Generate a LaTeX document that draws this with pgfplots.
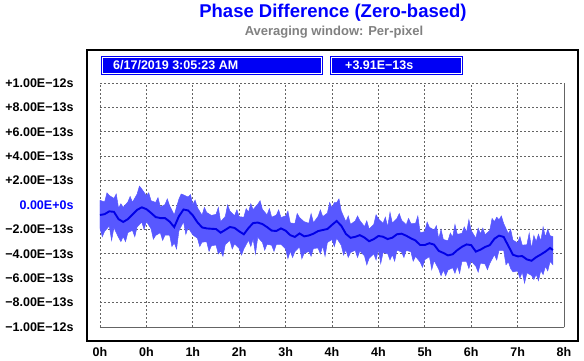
\documentclass[border=0pt]{standalone}
\usepackage{fontspec}
\setmainfont{Liberation Sans}
\usepackage{pgfplots}
\pgfplotsset{compat=1.18}
\usepackage{pgfplotstable}
\definecolor{bandblue}{RGB}{88,88,255}
\definecolor{meanblue}{RGB}{0,0,230}
\definecolor{gridgray}{RGB}{100,100,100}
\definecolor{subgray}{RGB}{128,128,128}
\definecolor{boxblue}{RGB}{0,0,245}
\definecolor{titleblue}{RGB}{0,0,255}

% x: grid intervals, y: units of 1E-13 s
\pgfplotstableread{
x y
0.00 -0.82
0.10 -0.75
0.20 -0.52
0.30 -0.56
0.40 -1.16
0.50 -1.39
0.60 -1.16
0.70 -0.78
0.80 -0.40
0.90 -0.19
1.00 -0.34
1.10 -0.65
1.20 -0.99
1.30 -1.07
1.40 -1.07
1.50 -1.36
1.60 -1.81
1.70 -0.93
1.80 -0.37
1.90 -0.45
2.00 -0.85
2.10 -1.42
2.20 -1.84
2.30 -1.92
2.40 -1.95
2.50 -1.97
2.60 -2.27
2.70 -2.04
2.80 -1.80
2.90 -1.88
3.00 -2.16
3.10 -2.40
3.20 -1.89
3.30 -1.48
3.40 -1.44
3.50 -1.56
3.60 -1.81
3.70 -2.10
3.80 -2.13
3.90 -1.92
4.00 -2.10
4.10 -2.47
4.20 -2.62
4.30 -2.33
4.40 -2.57
4.50 -2.50
4.60 -2.35
4.70 -2.14
4.80 -2.05
4.90 -1.97
5.00 -1.63
5.10 -1.31
5.20 -1.70
5.30 -2.37
5.40 -2.69
5.50 -2.61
5.60 -2.47
5.70 -2.67
5.80 -2.97
5.90 -2.80
6.00 -2.54
6.10 -2.60
6.20 -2.79
6.30 -2.68
6.40 -2.40
6.50 -2.35
6.60 -2.52
6.70 -2.73
6.80 -2.91
6.90 -3.28
7.00 -3.28
7.10 -3.13
7.20 -3.25
7.30 -3.76
7.40 -3.93
7.50 -4.13
7.60 -4.04
7.70 -3.70
7.80 -3.43
7.90 -3.23
8.00 -3.29
8.10 -3.82
8.20 -3.66
8.30 -3.44
8.40 -3.29
8.50 -2.77
8.60 -2.51
8.70 -2.62
8.80 -3.35
8.90 -4.08
9.00 -4.21
9.10 -4.19
9.20 -4.46
9.30 -4.57
9.40 -4.28
9.50 -4.06
9.60 -3.82
9.70 -3.52
9.76 -3.69
}\meandata

% band outline: upper envelope forward, lower envelope backward
\pgfplotstableread{
x y
0.00 0.38
0.10 0.25
0.15 1.00
0.20 0.78
0.30 0.54
0.35 0.90
0.40 -0.26
0.45 0.10
0.50 -0.19
0.60 0.24
0.65 0.70
0.70 0.22
0.80 0.90
0.85 1.55
0.90 1.31
1.00 0.76
1.05 1.00
1.10 0.35
1.20 0.21
1.25 0.60
1.30 -0.17
1.40 0.03
1.45 0.50
1.50 -0.06
1.60 -0.81
1.70 0.47
1.75 0.90
1.80 0.83
1.90 0.65
1.95 0.85
2.00 0.05
2.05 0.40
2.10 -0.22
2.20 -0.84
2.25 -0.20
2.30 -0.62
2.40 -0.85
2.50 -0.77
2.55 -0.20
2.60 -1.37
2.70 -0.94
2.75 0.00
2.80 -0.50
2.90 -0.88
2.95 -0.40
3.00 -0.96
3.10 -1.00
3.15 -0.30
3.20 -0.59
3.25 0.10
3.30 -0.38
3.40 0.06
3.45 0.35
3.50 -0.36
3.60 -0.81
3.65 -0.30
3.70 -1.00
3.80 -0.83
3.85 -0.40
3.90 -1.02
4.00 -0.90
4.05 -0.50
4.10 -1.47
4.20 -1.52
4.25 -0.70
4.30 -1.03
4.40 -1.37
4.50 -1.50
4.55 -0.70
4.60 -1.45
4.70 -0.94
4.75 -0.40
4.80 -0.95
4.90 -0.67
4.95 0.20
5.00 -0.23
5.05 0.20
5.10 0.19
5.15 0.50
5.20 -0.50
5.30 -1.37
5.35 -0.90
5.40 -1.59
5.50 -1.31
5.55 -0.90
5.60 -1.27
5.70 -1.77
5.75 -1.30
5.80 -1.97
5.90 -1.60
5.95 -0.80
6.00 -1.14
6.10 -1.50
6.15 -1.00
6.20 -1.79
6.25 -0.60
6.30 -1.48
6.40 -1.10
6.45 -0.70
6.50 -1.25
6.60 -1.62
6.65 -1.10
6.70 -1.53
6.80 -1.51
6.85 -0.90
6.90 -2.28
7.00 -2.18
7.05 -1.40
7.10 -1.83
7.20 -2.05
7.25 -1.70
7.30 -2.76
7.35 -2.00
7.40 -2.83
7.50 -2.93
7.55 -2.30
7.60 -2.64
7.65 -1.60
7.70 -2.40
7.80 -2.33
7.85 -1.80
7.90 -2.23
7.95 -1.20
8.00 -2.09
8.10 -2.72
8.15 -1.90
8.20 -2.36
8.25 -1.90
8.30 -2.44
8.40 -2.09
8.45 -1.10
8.50 -1.37
8.55 -1.00
8.60 -1.21
8.65 -0.90
8.70 -1.52
8.80 -2.35
8.85 -2.00
8.90 -2.88
9.00 -3.11
9.05 -2.60
9.10 -3.29
9.20 -3.26
9.25 -2.30
9.30 -3.57
9.35 -2.50
9.40 -2.98
9.45 -2.40
9.50 -2.96
9.55 -1.80
9.60 -2.62
9.65 -2.00
9.70 -2.52
9.76 -2.59
9.76 -4.89
9.70 -4.62
9.65 -5.40
9.60 -5.02
9.55 -5.70
9.50 -5.36
9.45 -6.20
9.40 -5.68
9.35 -6.10
9.30 -5.77
9.20 -5.56
9.15 -6.40
9.10 -5.49
9.05 -6.00
9.00 -5.41
8.90 -5.48
8.85 -5.20
8.80 -4.65
8.75 -4.90
8.70 -3.72
8.60 -3.71
8.55 -4.50
8.50 -4.07
8.40 -4.79
8.35 -5.30
8.30 -4.84
8.20 -4.76
8.15 -5.50
8.10 -5.02
8.00 -4.59
7.95 -5.20
7.90 -4.63
7.80 -4.63
7.75 -5.60
7.70 -5.00
7.65 -5.60
7.60 -5.14
7.50 -5.33
7.45 -5.80
7.40 -5.33
7.35 -5.80
7.30 -5.26
7.20 -4.55
7.15 -5.30
7.10 -4.23
7.00 -4.48
6.95 -5.10
6.90 -4.68
6.80 -4.21
6.75 -4.60
6.70 -3.83
6.60 -3.72
6.55 -4.30
6.50 -3.85
6.40 -3.70
6.35 -4.60
6.30 -4.08
6.25 -4.50
6.20 -3.99
6.10 -3.90
6.05 -4.80
6.00 -3.64
5.95 -4.50
5.90 -4.00
5.80 -4.37
5.75 -4.90
5.70 -4.17
5.60 -3.77
5.55 -4.30
5.50 -3.71
5.40 -3.89
5.35 -4.30
5.30 -3.67
5.25 -4.10
5.20 -3.30
5.10 -2.71
5.05 -3.40
5.00 -2.83
4.90 -3.07
4.85 -4.20
4.80 -3.35
4.75 -4.00
4.70 -3.54
4.60 -3.55
4.55 -4.20
4.50 -3.80
4.40 -3.97
4.35 -4.40
4.30 -3.43
4.20 -3.82
4.15 -4.30
4.10 -3.77
4.05 -4.40
4.00 -3.60
3.90 -3.22
3.80 -3.23
3.75 -3.80
3.70 -3.30
3.60 -3.21
3.55 -3.70
3.50 -3.06
3.40 -2.64
3.35 -4.00
3.30 -2.78
3.25 -3.40
3.20 -2.89
3.10 -3.60
3.05 -4.10
3.00 -3.56
2.90 -3.18
2.85 -3.60
2.80 -2.90
2.70 -3.24
2.65 -4.20
2.60 -3.77
2.55 -4.00
2.50 -3.27
2.40 -3.35
2.35 -3.80
2.30 -3.02
2.20 -3.04
2.15 -3.40
2.10 -2.72
2.00 -2.45
1.90 -1.85
1.85 -2.40
1.80 -1.37
1.70 -2.13
1.65 -3.60
1.60 -3.11
1.55 -3.40
1.50 -2.46
1.40 -2.47
1.35 -2.90
1.30 -2.27
1.20 -2.49
1.15 -2.80
1.10 -1.95
1.00 -1.34
0.95 -2.00
0.90 -1.39
0.80 -1.80
0.75 -2.60
0.70 -2.08
0.60 -2.26
0.55 -3.00
0.50 -2.59
0.45 -3.00
0.40 -2.66
0.30 -1.86
0.25 -2.90
0.20 -1.72
0.10 -2.15
0.05 -2.60
0.00 -1.92
}\banddata

\begin{document}
\begin{tikzpicture}[x=1pt,y=1pt]
\path (0,0) -- (584,361);
\draw[black, line width=2.4pt] (87,20) rectangle (578,311);
\node[anchor=base, text=titleblue, font=\fontsize{18.5}{20}\selectfont\bfseries] at (333,343) {Phase Difference (Zero-based)};
\node[anchor=base, text=subgray, font=\fontsize{13}{15}\selectfont\bfseries] at (334,325) {Averaging window: Per-pixel};
\begin{axis}[
  at={(100pt,34pt)}, anchor=south west,
  width=464pt, height=244pt, scale only axis,
  xmin=0, xmax=10, ymin=-10, ymax=10,
  xtick={0,1,2,3,4,5,6,7,8,9,10},
  xticklabels={0h,0h,1h,2h,3h,4h,4h,5h,6h,7h,8h},
  ytick={-10,-8,-6,-4,-2,0,2,4,6,8,10},
  yticklabels={−1.00E−12s,−8.00E−13s,−6.00E−13s,−4.00E−13s,−2.00E−13s,{\color{titleblue}0.00E+0s},+2.00E−13s,+4.00E−13s,+6.00E−13s,+8.00E−13s,+1.00E−12s},
  grid=major,
  grid style={gridgray, line width=0.7pt, dash pattern=on 2pt off 2pt},
  axis line style={gridgray, line width=0.7pt, dash pattern=on 2pt off 2pt},
  major tick length=0pt,
  tick label style={font=\fontsize{12.5}{14}\selectfont\bfseries},
  yticklabel style={anchor=east, xshift=-23pt},
  xticklabel style={yshift=-17pt},
]
\addplot[fill=bandblue, draw=bandblue, line width=0.5pt] table[x=x,y=y] {\banddata} -- cycle;
\addplot[meanblue, line width=1.9pt] table[x=x,y=y] {\meandata};
\end{axis}
\fill[boxblue] (101,286) rectangle (323,305);
\draw[white, line width=0.8pt] (102.5,287.5) rectangle (321.5,303.5);
\fill[boxblue] (330,286) rectangle (463,305);
\draw[white, line width=0.8pt] (331.5,287.5) rectangle (461.5,303.5);
\node[anchor=base west, text=white, inner sep=0pt, font=\fontsize{12.5}{14}\selectfont\bfseries] at (113,291) {6/17/2019 3:05:23 AM};
\node[anchor=base west, text=white, inner sep=0pt, font=\fontsize{12.5}{14}\selectfont\bfseries] at (345,291) {+3.91E−13s};
\end{tikzpicture}
\end{document}
